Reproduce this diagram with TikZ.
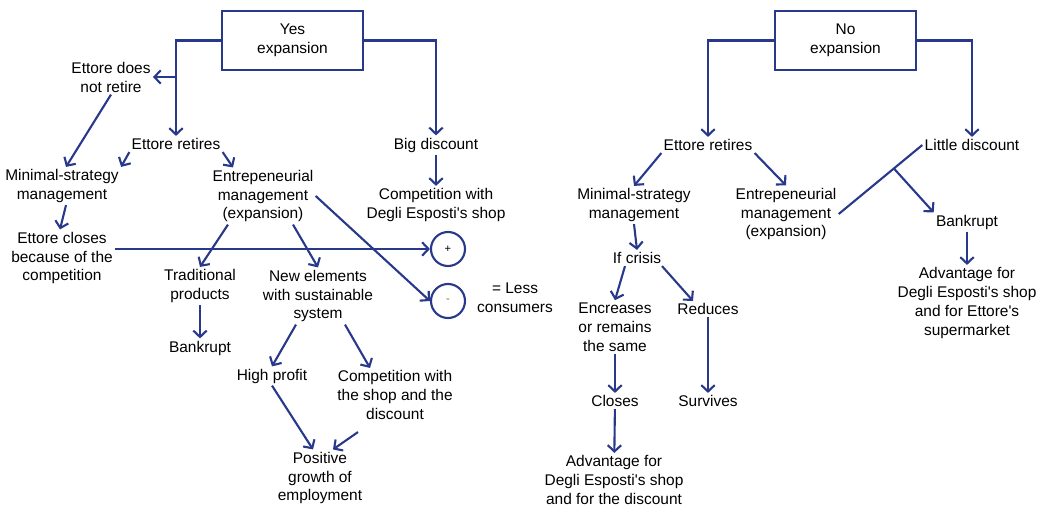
\documentclass[tikz,border=0pt]{standalone}
\usepackage{fontspec}
\setmainfont{Liberation Sans}
\usetikzlibrary{arrows.meta,calc}
\definecolor{flowblue}{RGB}{40,56,138}
\newcommand{\q}{\textquotesingle}

\begin{document}
\begin{tikzpicture}[x=0.025cm,y=-0.025cm]

      \useasboundingbox (0,0) rectangle (1039,508);

      \tikzset{
        link/.style={draw=flowblue, line width=1.5pt, -{Straight Barb[length=4.5pt,width=9.5pt]}},
        choice/.style={draw=flowblue, line width=1.6pt, minimum width=3.525cm, minimum height=1.475cm},
        sign/.style={circle, draw=flowblue, line width=1.5pt, minimum size=0.85cm, inner sep=0pt, font=\fontsize{8}{9}\selectfont}
      }

      \begin{scope}[every node/.style={align=center, inner sep=1.5pt, font=\fontsize{11}{13.5}\selectfont}]
        % expansion
        \node[choice] (1) at (292.5,40.5) {Yes\\expansion};
        \node (2)  at (111,77)  {Ettore does\\not retire};
        \node (3)  at (176,144) {Ettore retires};
        \node (4)  at (436,145) {Big discount};
        \node (5)  at (62,186)  {Minimal-strategy\\management};
        \node (6)  at (263,196) {Entrepeneurial\\management\\(expansion)};
        \node (7)  at (436,205) {Competition with\\Degli Esposti\q s shop};
        \node (8)  at (62,258)  {Ettore closes\\because of the\\competition};
        \node[sign] (9) at (448,249) {+};
        \node[sign, text={rgb,255:red,150;green,100;blue,40}] (10) at (448,301) {-};
        \node (11) at (515,298) {= Less\\consumers};
        \node (12) at (200,286) {Traditional\\products};
        \node (13) at (318,296) {New elements\\with sustainable\\system};
        \node (14) at (200,348) {Bankrupt};
        \node (15) at (272,376) {High profit};
        \node (16) at (395,395) {Competition with\\the shop and the\\discount};
        \node (17) at (320,478) {Positive\\growth of\\employment};
        % no expansion
        \node[choice] (18) at (845.5,40.5) {No\\expansion};
        \node (19) at (708,145) {Ettore retires};
        \node (20) at (972,145) {Little discount};
        \node (21) at (634,205) {Minimal-strategy\\management};
        \node (22) at (786,214) {Entrepeneurial\\management\\(expansion)};
        \node (23) at (967,222) {Bankrupt};
        \node (24) at (637,258) {If crisis};
        \node (25) at (967,303) {Advantage for\\Degli Esposti\q s shop\\and for Ettore\q s\\supermarket};
        \node (26) at (615,327) {Encreases\\or remains\\the same};
        \node (27) at (708,309) {Reduces};
        \node (28) at (615,401) {Closes};
        \node (29) at (708,401) {Survives};
        \node (30) at (614,480) {Advantage for\\Degli Esposti\q s shop\\and for the discount};
      \end{scope}

      \begin{scope}[every edge/.style={link}]
        % expansion
        \draw[link] (1.west) -| (3.north);
        \draw[link] (1.east) -| (4.north);
        \path (2.east -| 3.north) edge (2.east);
        \path (4) edge (7);
        \path (2.south) edge ($(5.north)+(4,0)$);
        \path (3.south west) edge (5.north east);
        \path (3.south east) edge ($(6.north)+(-30,0)$);
        \path ($(5.south)+(4,0)$) edge ($(8.north)+(-2,0)$);
        \path (8.east |- 9.west) edge (9.west);
        \path ($(6.south)+(-35,0)$) edge (12.north);
        \path ($(6.south)+(30,0)$) edge (13.north);
        \path (6.east) edge (10.west);
        \path (12) edge (14);
        \path ($(13.south)+(-22,0)$) edge (15.north);
        \path ($(13.south)+(27,0)$) edge ($(16.north)+(-25,0)$);
        \path (15.south) edge ($(17.north)+(-7,0)$);
        \path ($(16.south)+(-37,10)$) edge ($(17.north)+(13,0)$);
        % no expansion
        \draw[link] (18.west) -| (19.north);
        \draw[link] (18.east) -| (20.north);
        \path (19.south west) edge (21.north);
        \path (19.south east) edge (22.north);
        \draw[link, -] (20.west) -- coordinate[pos=.34] (k) (22.east);
        \path (k) edge (23.north west);
        \path (23) edge (25);
        \path (21.south) edge (24.north);
        \path ($(24.south)+(-12,0)$) edge (26.north);
        \path ($(24.south)+(25,0)$) edge ($(27.north)+(-15,0)$);
        \path (26) edge (28);
        \path (27) edge (29);
        \path (28) edge (30);
      \end{scope}

    \end{tikzpicture}
\end{document}
